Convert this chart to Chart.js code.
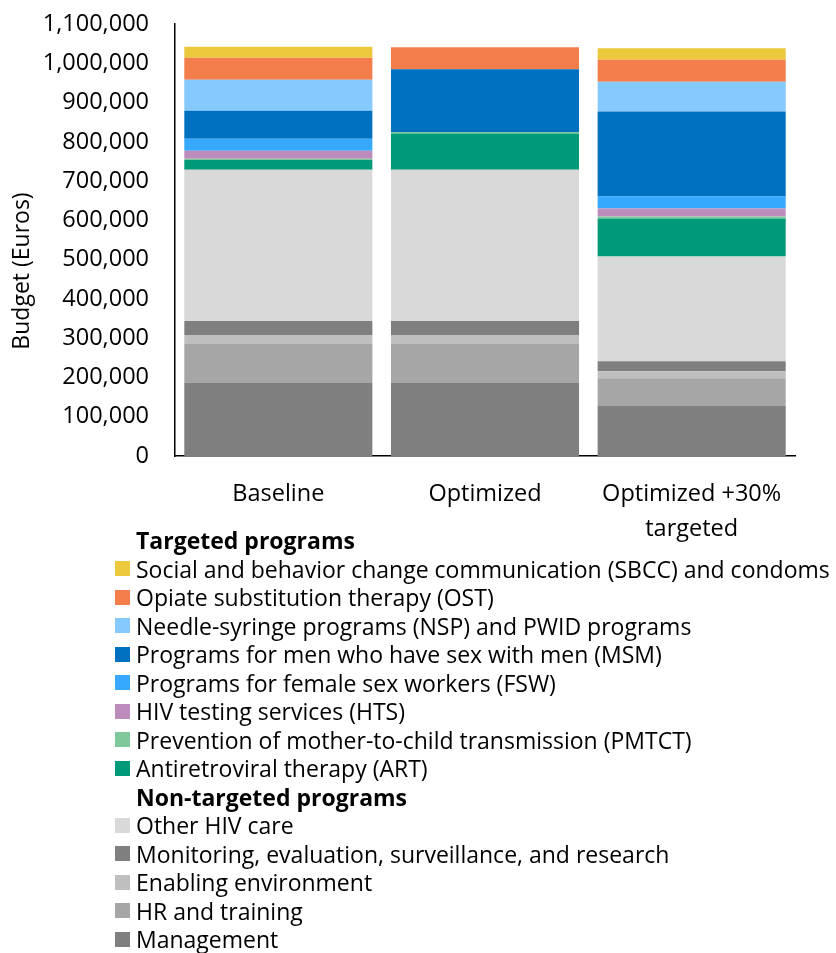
<!DOCTYPE html>
<html>
<head>
<meta charset="utf-8">
<script src="https://cdn.jsdelivr.net/npm/chart.js@4/dist/chart.umd.min.js"></script>
<style>
  body { margin: 0; background: #fff; width: 836px; height: 953px; overflow: hidden; position: relative; font-family: 'Open Sans', sans-serif; }
  #wrap { position: absolute; left: 0; top: 0; width: 836px; height: 562px; }
  #legend { position: absolute; left: 115px; top: 526px; font-size: 23px; color: #000; }
  .row { height: 28.5px; line-height: 28.5px; white-space: nowrap; display: flex; align-items: center; }
  .box { width: 15px; height: 15px; margin-right: 6px; flex: none; }
  .head { font-weight: bold; padding-left: 21px; }
</style>
</head>
<body>
<div id="wrap"><canvas id="budgetChart"></canvas></div>
<div id="legend"></div>
<script>
// categories on the x axis
const categories = [['Baseline'], ['Optimized'], ['Optimized +30%', 'targeted']];
const yTicks = [0, 100000, 200000, 300000, 400000, 500000, 600000, 700000, 800000, 900000, 1000000, 1100000];

// targeted programs (Euros)
const sbcc = [28000, 0, 29000];
const ost = [56000, 56000, 56000];
const nsp = [79000, 0, 76000];
const msm = [71000, 160000, 216000];
const fsw = [31000, 0, 31000];
const hts = [20000, 0, 20000];
const pmtct = [3000, 4000, 5000];
const art = [25000, 92000, 97000];

// non-targeted programs (Euros)
const otherCare = [385000, 385000, 267000];
const monitoring = [36000, 36000, 25000];
const enabling = [23000, 23000, 18000];
const hrTraining = [99000, 99000, 71000];
const management = [186000, 186000, 127000];

// legend order, top to bottom
const targeted = [
    { label: 'Social and behavior change communication (SBCC) and condoms', data: sbcc, color: '#EBC83C' },
    { label: 'Opiate substitution therapy (OST)', data: ost, color: '#F37D4B' },
    { label: 'Needle-syringe programs (NSP) and PWID programs', data: nsp, color: '#85C9FF' },
    { label: 'Programs for men who have sex with men (MSM)', data: msm, color: '#0070C0' },
    { label: 'Programs for female sex workers (FSW)', data: fsw, color: '#36A9FF' },
    { label: 'HIV testing services (HTS)', data: hts, color: '#BC8DBC' },
    { label: 'Prevention of mother-to-child transmission (PMTCT)', data: pmtct, color: '#7EC89B' },
    { label: 'Antiretroviral therapy (ART)', data: art, color: '#009A78' }
];
const nonTargeted = [
    { label: 'Other HIV care', data: otherCare, color: '#D9D9D9' },
    { label: 'Monitoring, evaluation, surveillance, and research', data: monitoring, color: '#7F7F7F' },
    { label: 'Enabling environment', data: enabling, color: '#BFBFBF' },
    { label: 'HR and training', data: hrTraining, color: '#A6A6A6' },
    { label: 'Management', data: management, color: '#7F7F7F' }
];

const font = "'Open Sans', sans-serif";

// stacked bottom-up, so reverse the legend order
const datasets = targeted.concat(nonTargeted).slice().reverse().map(s => ({
    label: s.label,
    data: s.data,
    backgroundColor: s.color,
    borderWidth: 0,
    barPercentage: 0.91,
    categoryPercentage: 1
}));

// y axis title drawn by hand so it sits where the original has it
const yTitlePlugin = {
    id: 'yTitle',
    afterDraw(chart) {
        const ctx = chart.ctx;
        ctx.save();
        ctx.translate(22, 271);
        ctx.rotate(-Math.PI / 2);
        ctx.font = "23px " + font;
        ctx.fillStyle = '#000';
        ctx.textAlign = 'center';
        ctx.textBaseline = 'middle';
        ctx.fillText('Budget (Euros)', 0, 0);
        ctx.restore();
    }
};

const ctx = document.getElementById('budgetChart').getContext('2d');
new Chart(ctx, {
    type: 'bar',
    data: { labels: categories, datasets: datasets },
    options: {
        responsive: true,
        maintainAspectRatio: false,
        animation: false,
        layout: { padding: { top: 24, right: 41, left: 0, bottom: 0 } },
        plugins: { legend: { display: false }, tooltip: { enabled: false } },
        scales: {
            x: {
                stacked: true,
                grid: { display: false, drawTicks: false },
                border: { display: true, color: '#000', width: 1.5 },
                ticks: { color: '#000', font: { family: font, size: 23.5, lineHeight: 1.48 }, padding: 21, maxRotation: 0 },
                afterFit: s => { s.height = 106; }
            },
            y: {
                stacked: true,
                min: 0,
                max: yTicks[yTicks.length - 1],
                afterBuildTicks: s => { s.ticks = yTicks.map(v => ({ value: v })); },
                grid: { display: false, drawTicks: false },
                border: { display: true, color: '#000', width: 1.5 },
                ticks: {
                    color: '#000',
                    font: { family: font, size: 23.5 },
                    padding: 26,
                    callback: v => v.toLocaleString('en-US')
                },
                afterFit: s => { s.width = 175; s.paddingTop = 0; s.paddingBottom = 0; }
            }
        }
    },
    plugins: [yTitlePlugin]
});

// legend with group headings
function legendRows(title, items) {
    let html = '<div class="row head">' + title + '</div>';
    items.forEach(s => {
        html += '<div class="row"><span class="box" style="background:' + s.color + '"></span>' + s.label + '</div>';
    });
    return html;
}
document.getElementById('legend').innerHTML =
    legendRows('Targeted programs', targeted) + legendRows('Non-targeted programs', nonTargeted);
</script>
</body>
</html>
